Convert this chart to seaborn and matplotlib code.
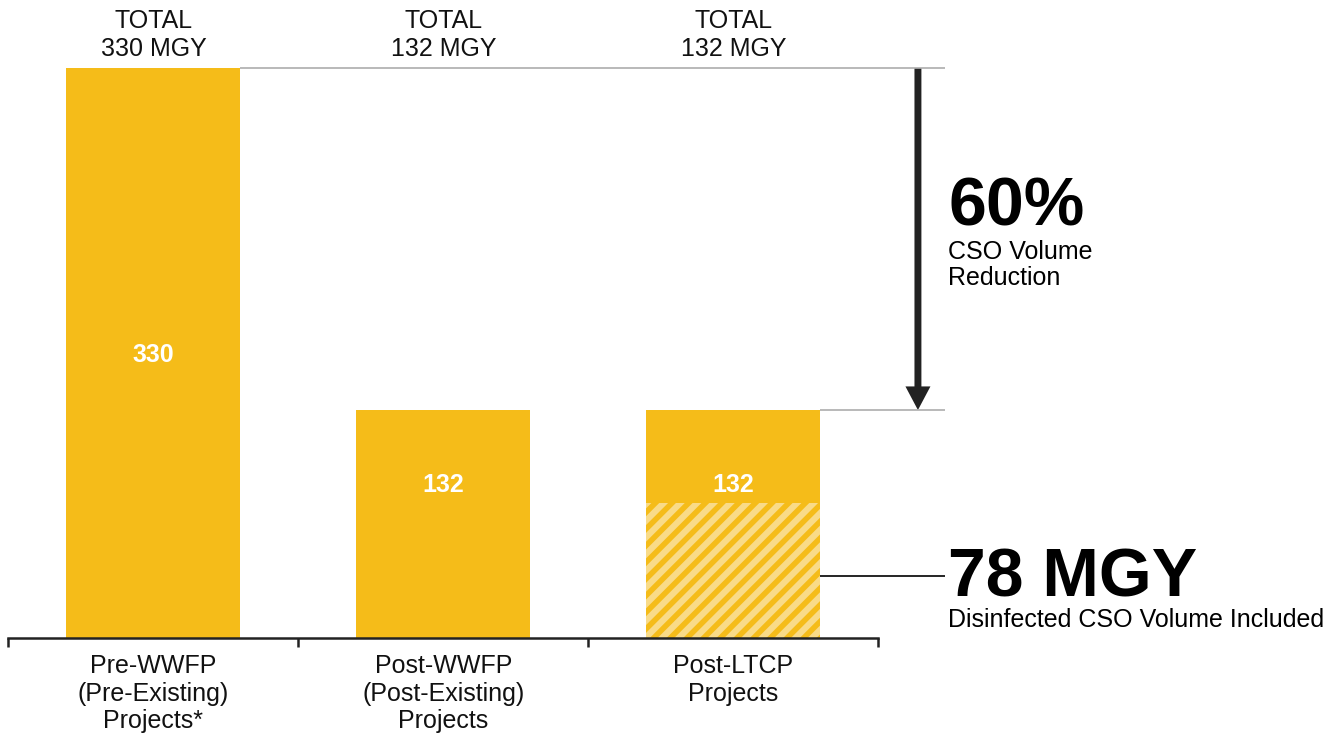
import matplotlib
matplotlib.use("Agg")
import matplotlib.pyplot as plt
from matplotlib.patches import FancyArrowPatch
import seaborn as sns
import pandas as pd

# Data
categories = ["Pre-WWFP\n(Pre-Existing)\nProjects*",
              "Post-WWFP\n(Post-Existing)\nProjects",
              "Post-LTCP\nProjects"]
totals = [330, 132, 132]
disinfected = [0, 0, 78]
total_labels = ["TOTAL\n330 MGY", "TOTAL\n132 MGY", "TOTAL\n132 MGY"]
reduction_pct = "60%"
reduction_text = "CSO Volume\nReduction"
disinfected_big = "78 MGY"
disinfected_text = "Disinfected CSO Volume Included"

sns.set_style("white")
plt.rcParams["font.family"] = ["Liberation Sans", "DejaVu Sans"]
plt.rcParams["hatch.linewidth"] = 4.5

YELLOW = "#F5BC19"
HATCH = "#F9DB88"
DARK = "#222222"
GRAY = "#ADADAD"
FS = 18

df = pd.DataFrame({"category": categories, "total": totals, "disinfected": disinfected})

fig = plt.figure(figsize=(13.38, 7.37), dpi=100)
ax = fig.add_axes([0, 0, 1, 1])

sns.barplot(data=df, x="category", y="total", color=YELLOW, width=0.6,
            saturation=1, linewidth=0, ax=ax)
n_before = len(ax.patches)
sns.barplot(data=df, x="category", y="disinfected", color=YELLOW, width=0.6,
            saturation=1, linewidth=0, edgecolor=HATCH, hatch="//", ax=ax)
for p in ax.patches[n_before:]:
    if hasattr(p, "set_hatch_linewidth"):
        p.set_hatch_linewidth(4.5)

ax.set_xlim(-0.5293, 4.0845)
ax.set_ylim(-57.3, 369.4)
ax.set_xlabel("")
ax.set_ylabel("")

# Axis styling: only a baseline with boundary ticks
for side in ["top", "left", "right"]:
    ax.spines[side].set_visible(False)
ax.spines["bottom"].set_position(("data", 0))
ax.spines["bottom"].set_bounds(-0.5, 2.5)
ax.spines["bottom"].set_color(DARK)
ax.spines["bottom"].set_linewidth(1.8)
ax.set_yticks([])
ax.set_xticks(range(len(categories)))
ax.set_xticklabels(categories, fontsize=FS, linespacing=1.19, color="#111111")
ax.set_xticks([-0.5, 0.5, 1.5, 2.5], minor=True)
ax.tick_params(axis="x", which="both", bottom=True)
ax.tick_params(axis="x", which="major", length=0, pad=11.5)
ax.tick_params(axis="x", which="minor", length=6.5, width=1.8, color=DARK, direction="out")

# Total labels above the tallest bar
top = max(totals)
for i, lab in enumerate(total_labels):
    ax.annotate(lab, (i, top), xytext=(0, 23.8), textcoords="offset points",
                ha="center", va="center", fontsize=FS, linespacing=1.16, color="#111111")

# Value labels inside bars
value_y = [159.8, 84.5, 84.5]
for i, (v, yy) in enumerate(zip(totals, value_y)):
    ax.text(i, yy, f"{v}", ha="center", va="baseline", fontsize=FS,
            fontweight="bold", color="white")

# Reference lines at the old and new totals
ax.plot([0.3, 2.729], [totals[0], totals[0]], color=GRAY, lw=1.2, solid_capstyle="butt")
ax.plot([2.3, 2.729], [totals[2], totals[2]], color=GRAY, lw=1.2, solid_capstyle="butt")

# Reduction arrow
arrow = FancyArrowPatch((2.636, totals[0]), (2.636, totals[2]),
                        arrowstyle="simple,head_length=17,head_width=18,tail_width=5",
                        mutation_scale=1, color=DARK, lw=0, shrinkA=0, shrinkB=0)
ax.add_patch(arrow)

ax.text(2.74, 239.1, reduction_pct, ha="left", va="baseline", fontsize=49,
        fontweight="bold", color="black")
ax.text(2.74, 216.0, reduction_text, ha="left", va="center", fontsize=FS,
        linespacing=1.12, color="black")

# Disinfected volume callout
ax.plot([2.3, 2.729], [36, 36], color="black", lw=1.2, solid_capstyle="butt")
ax.text(2.74, 23.8, disinfected_big, ha="left", va="baseline", fontsize=49,
        fontweight="bold", color="black")
ax.text(2.74, 6.4, disinfected_text, ha="left", va="baseline", fontsize=FS,
        color="black")

fig.savefig("out.png", dpi=100)
